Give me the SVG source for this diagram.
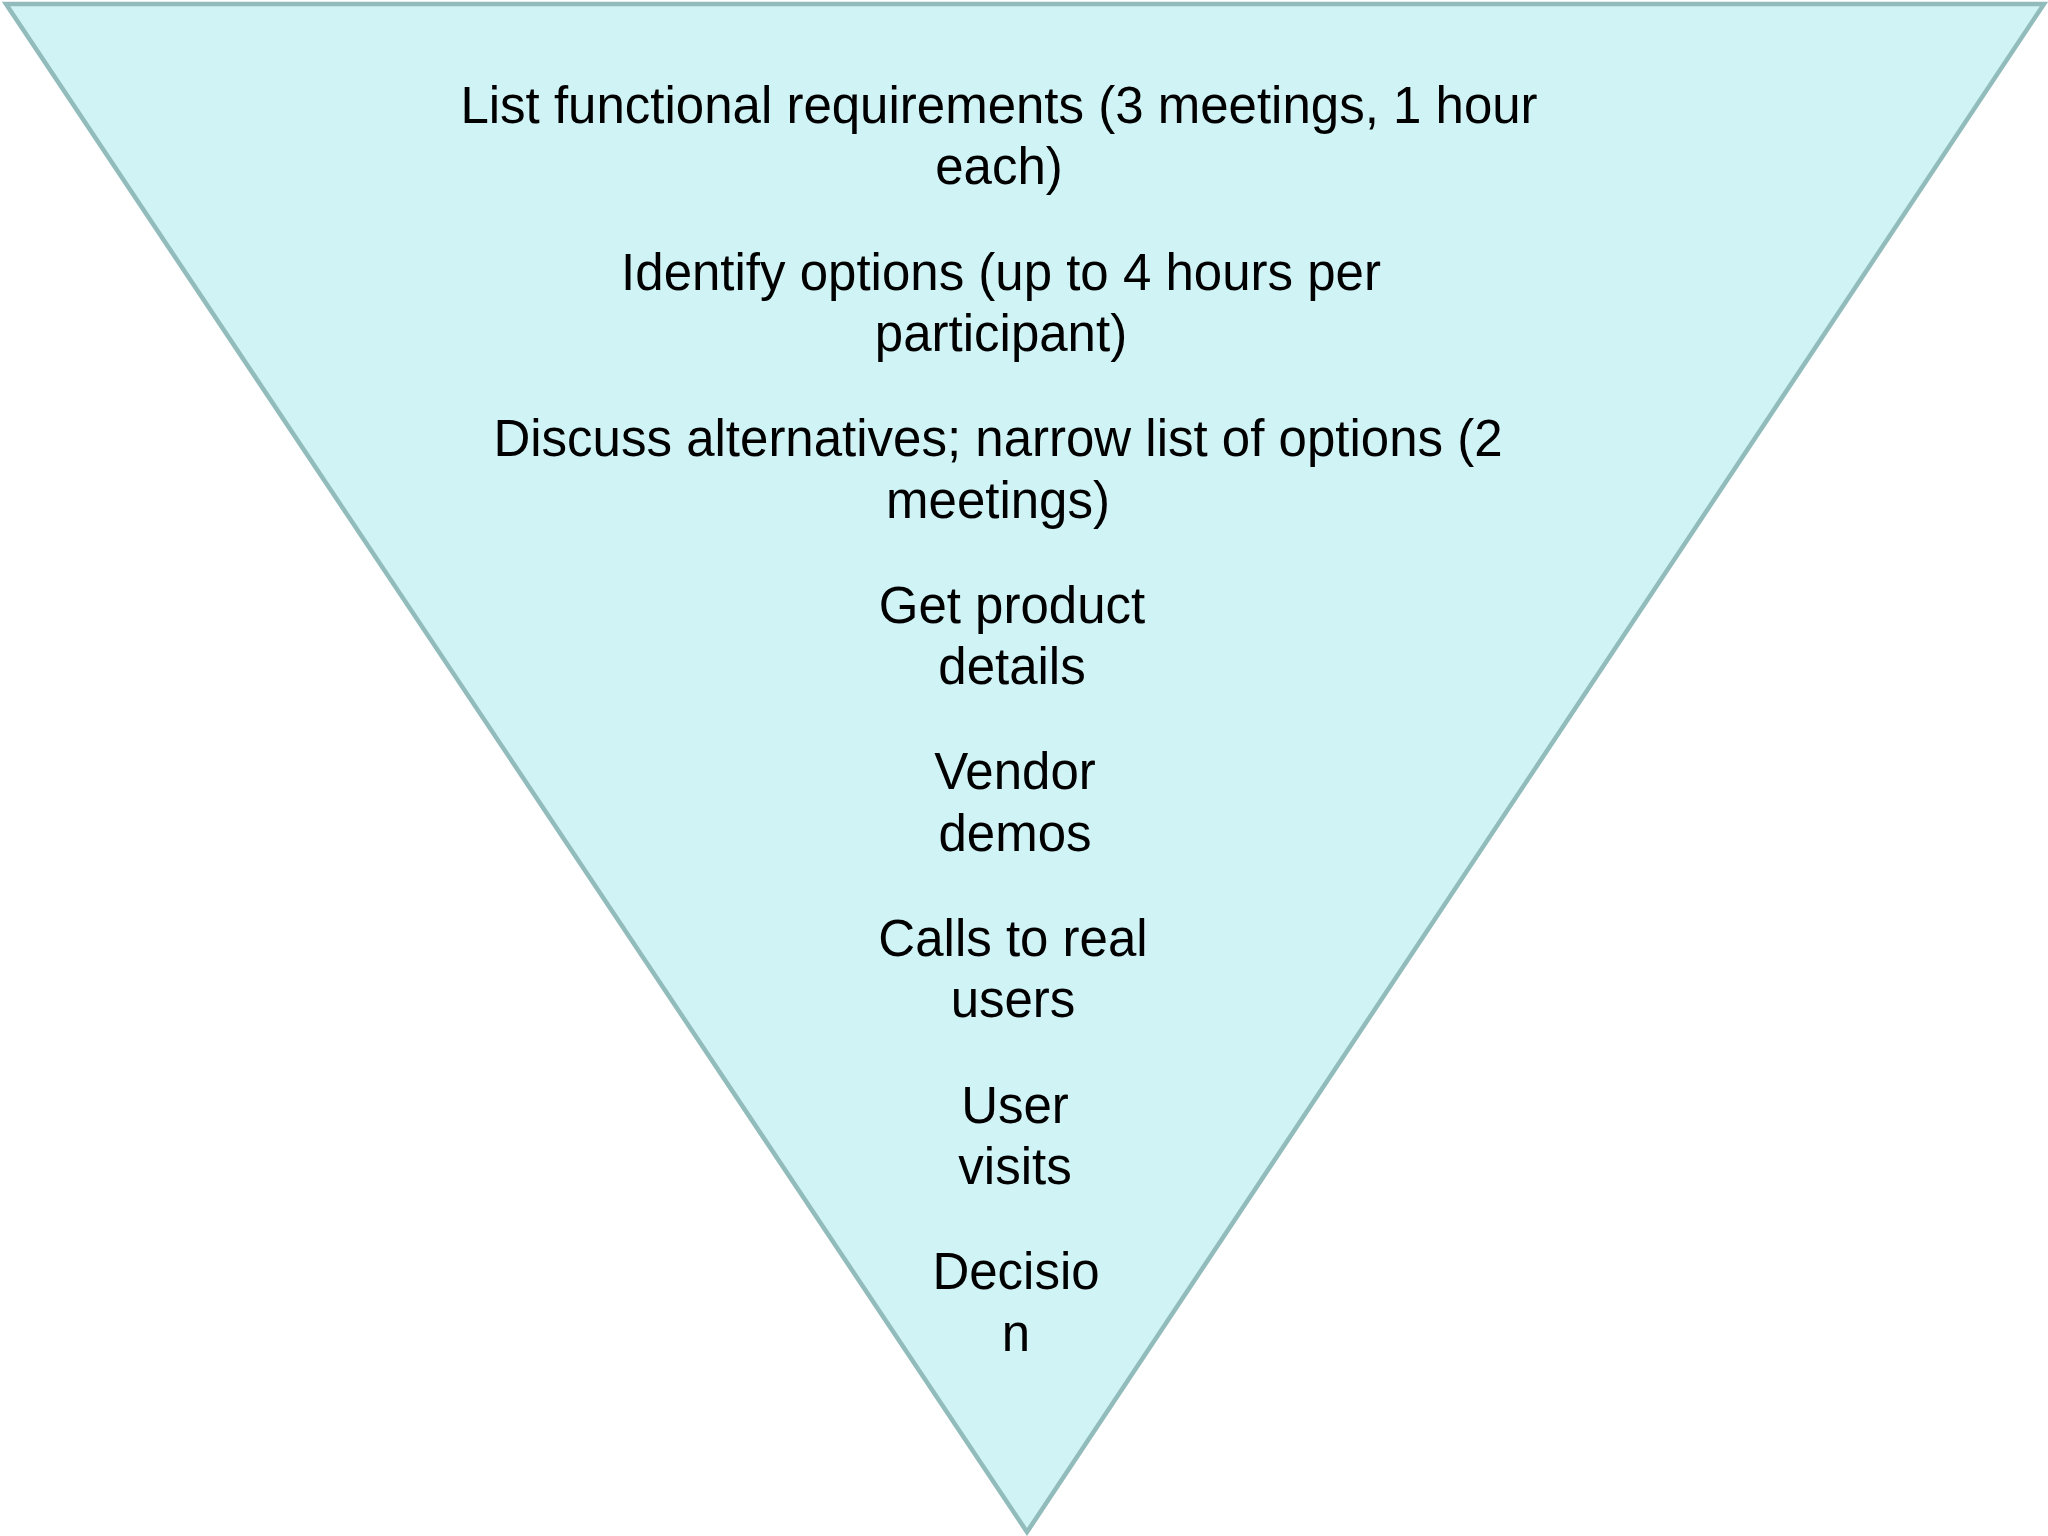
<svg xmlns="http://www.w3.org/2000/svg" width="2048" height="1536" viewBox="0 0 2048 1536">
  <style>
    .lbl { font-family: "Liberation Sans", Arial, sans-serif; font-size: 51px; fill: #000; text-anchor: middle; }
  </style>
  <rect width="2048" height="1536" fill="#ffffff"/>
  <g id="funnel">
    <polygon points="6,4 2044,4 1027,1532" fill="#d0f3f6" stroke="#92bcbc" stroke-width="4.5" stroke-linejoin="miter"/>
  </g>
  <g id="step1"><text class="lbl" x="999" y="123">List functional requirements (3 meetings, 1 hour</text><text class="lbl" x="999" y="184">each)</text></g>
  <g id="step2"><text class="lbl" x="1001" y="290">Identify options (up to 4 hours per</text><text class="lbl" x="1001" y="351">participant)</text></g>
  <g id="step3"><text class="lbl" x="998" y="456">Discuss alternatives; narrow list of options (2</text><text class="lbl" x="998" y="518">meetings)</text></g>
  <g id="step4"><text class="lbl" x="1012" y="623">Get product</text><text class="lbl" x="1012" y="684">details</text></g>
  <g id="step5"><text class="lbl" x="1015" y="789">Vendor</text><text class="lbl" x="1015" y="851">demos</text></g>
  <g id="step6"><text class="lbl" x="1013" y="956">Calls to real</text><text class="lbl" x="1013" y="1017">users</text></g>
  <g id="step7"><text class="lbl" x="1015" y="1123">User</text><text class="lbl" x="1015" y="1184">visits</text></g>
  <g id="step8"><text class="lbl" x="1016" y="1289">Decisio</text><text class="lbl" x="1016" y="1351">n</text></g>
  <g id="connectors"></g>
</svg>
